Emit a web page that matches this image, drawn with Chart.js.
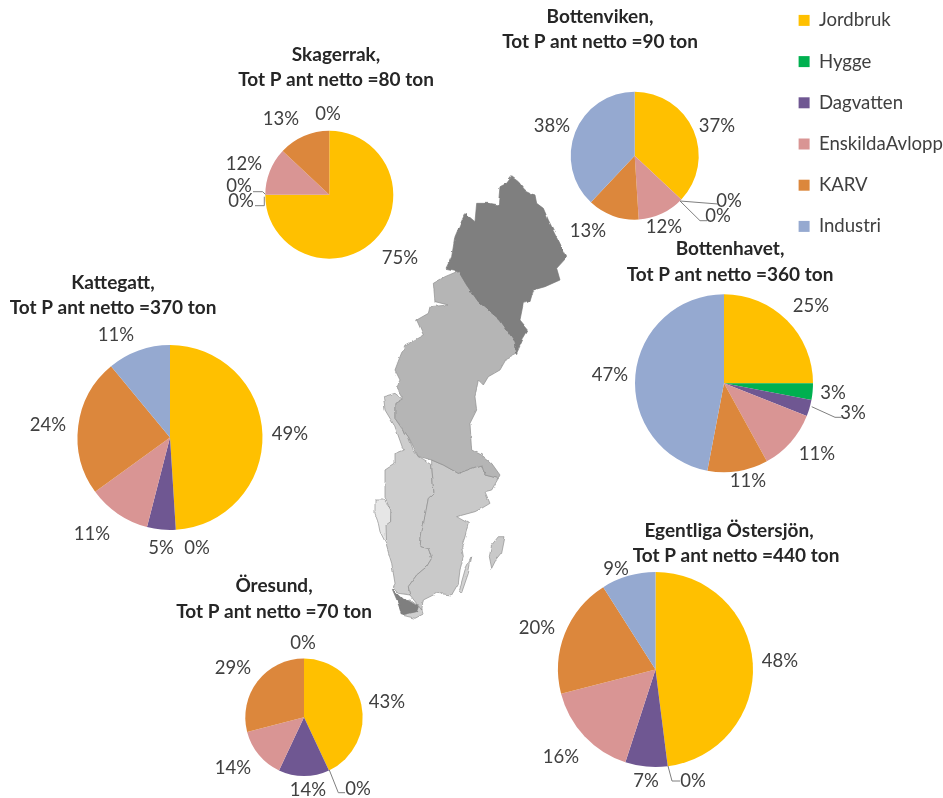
<!DOCTYPE html>
<html><head><meta charset="utf-8">
<script src="https://cdn.jsdelivr.net/npm/chart.js@4"></script>
<style>
html,body{margin:0;padding:0;background:#fff;width:943px;height:798px;overflow:hidden}
#stage{position:relative;width:943px;height:798px;overflow:hidden;filter:blur(.45px)}
canvas,svg{position:absolute;left:0;top:0}
</style></head><body><div id="stage">
<svg width="943" height="798" viewBox="0 0 943 798">
<defs><filter id="rough" x="-5%" y="-5%" width="110%" height="110%">
<feTurbulence type="fractalNoise" baseFrequency="0.035" numOctaves="3" seed="4"/>
<feDisplacementMap in="SourceGraphic" scale="9" xChannelSelector="R" yChannelSelector="G"/>
</filter></defs>
<g transform="translate(360,170) scale(.33333)" stroke="#8c8c8c" stroke-width="2" stroke-linejoin="round" filter="url(#rough)">
<polygon fill="#cfcfcf" points="125,1335 165,1345 190,1332 185,1315 150,1290 115,1300"/>
<polygon fill="#e6e6e6" points="45,990 70,990 95,1020 92,1055 95,1070 78,1120 60,1085 55,1060 45,1030"/>
<polygon fill="#cdcdcd" points="70,680 105,670 130,690 105,700 105,745 125,775 145,800 160,840 175,860 215,885 218,930 222,970 205,985 195,1040 185,1090 180,1130 205,1135 215,1165 200,1190 170,1215 145,1250 150,1275 115,1270 100,1255 105,1240 95,1180 80,1130 78,1065 92,1055 92,1020 75,985 75,900 105,880 105,850 130,840 105,770 75,720"/>
<polygon fill="#c9c9c9" points="215,870 250,885 295,910 335,895 365,885 375,915 415,925 395,960 375,965 390,1000 365,1015 345,1025 290,1040 325,1060 315,1100 305,1130 310,1160 300,1200 295,1240 275,1275 230,1270 190,1290 185,1320 150,1275 145,1250 170,1215 200,1190 215,1165 205,1135 180,1130 185,1090 205,985 222,970 215,885"/>
<polygon fill="#7f7f7f" stroke="#777" points="97,1258 115,1300 125,1335 170,1325 175,1310 150,1295 125,1285"/>
<polygon fill="#c9c9c9" points="415,1100 435,1100 425,1150 405,1175 395,1195 388,1160 395,1125"/>
<polygon fill="#d2d2d2" points="335,1160 325,1210 305,1268 298,1260 315,1200"/>
<polygon fill="#b5b5b5" points="295,303 320,345 355,395 420,450 465,515 470,550 440,565 420,600 385,620 370,645 355,630 345,680 350,720 330,760 335,840 365,855 395,880 420,915 415,925 375,915 365,885 335,895 295,910 250,885 215,870 175,860 145,800 105,745 105,700 130,685 110,650 120,630 105,600 120,560 135,525 190,495 170,450 205,430 210,410 265,405 225,395 220,340 255,320"/>
<polygon fill="#7f7f7f" stroke="#777" points="455,20 475,35 495,60 525,75 530,100 550,115 565,150 590,200 620,262 590,295 600,330 555,350 520,360 510,395 490,400 480,450 505,480 490,505 470,550 465,515 420,450 355,395 320,345 295,303 258,295 275,260 285,200 315,130 345,155 350,100 385,100 415,105 420,50 440,40"/>
</g></svg>
<canvas id="c0" width="943" height="798"></canvas>
<canvas id="c1" width="943" height="798"></canvas>
<canvas id="c2" width="943" height="798"></canvas>
<canvas id="c3" width="943" height="798"></canvas>
<canvas id="c4" width="943" height="798"></canvas>
<canvas id="c5" width="943" height="798"></canvas>
<canvas id="cl" width="343" height="300" style="left:600px"></canvas>
</div>
<script>
// ---- data ----
const categories = ['Jordbruk','Hygge','Dagvatten','EnskildaAvlopp','KARV','Industri'];
const skagerrak   = [75,0,0,12,13,0];
const bottenviken = [37,0,0,12,13,38];
const bottenhavet = [25,3,3,11,11,47];
const kattegatt   = [49,0,5,11,24,11];
const oresund     = [43,0,14,14,29,0];
const egentliga   = [48,0,7,16,20,9];
const basinNames  = ['Skagerrak','Bottenviken','Bottenhavet','Kattegatt','Öresund','Egentliga Östersjön'];
const totals      = [80,90,360,370,70,440];
const colors = ['#FFC000','#00B050','#6F5792','#D99594','#DC873C','#95A9D0'];

// ---- layout (page pixels) ----
const W = 943, H = 798;
const TITLE_FONT = 'bold 19px Lato, sans-serif';
const LABEL_FONT = '18.5px Lato, sans-serif';
const layouts = [
 {cx:329.3,cy:194.7,r:64,  t:[[336,55],[336,80]],
  l:[[400,258],null,null,[244,164],[281,119],[328,114]],
  extra:[[1,239,186],[2,241,201]],
  lines:[[[253,191.7],[262.7,191.7],[265.3,194.3]],[[255,205.7],[264.3,205.7],[264.3,196.7]]]},
 {cx:634.7,cy:155.7,r:64,  t:[[600,17],[600,42]],
  l:[[717,126],[729,201],[718,216],[664,227],[588,231],[552,126]],
  lines:[[[680,201],[718,204]],[[680,201],[700,220.7],[707,220.7]]]},
 {cx:724,cy:383.3,r:89,    t:[[730,249],[730,275]],
  l:[[811,306],[833,393],[853,413],[817,454],[748,481],[610,375]],
  lines:[[[811.7,406.7],[835,417.3],[841.7,417.3]]]},
 {cx:170,cy:437.5,r:92.5,  t:[[113,283],[113,308]],
  l:[[290,434],[197,548],[161,548],[92,534],[48,425],[116,335]], lines:[]},
 {cx:304,cy:717.3,r:58.7,  t:[[274,586],[274,612]],
  l:[[387,702],[358,789],[308,790],[233,768],[233,668],[303,643]],
  lines:[[[329.3,770],[338.3,792.7],[345,792.7]]]},
 {cx:655.5,cy:669.5,r:97.5,t:[[729,531],[736,556]],
  l:[[780,661],[693,781],[646,781],[561,757],[537,628],[616,569]],
  lines:[[[668,766],[672,781],[680,781]]]}
];
const seriesList = [skagerrak,bottenviken,bottenhavet,kattegatt,oresund,egentliga];

const annotate = {
  id:'annotate',
  afterDraw(chart){
    const i = chart.options.plugins.annotate.index, L = layouts[i], s = seriesList[i], c = chart.ctx;
    c.save();
    c.textAlign='center'; c.textBaseline='middle';
    c.fillStyle='#262626'; c.font=TITLE_FONT;
    c.fillText(basinNames[i]+',',L.t[0][0],L.t[0][1]);
    c.fillText('Tot P ant netto ='+totals[i]+' ton',L.t[1][0],L.t[1][1]);
    c.fillStyle='#404040'; c.font=LABEL_FONT;
    s.forEach((v,k)=>{ const p=L.l[k]; if(p) c.fillText(v+'%',p[0],p[1]); });
    (L.extra||[]).forEach(e=>c.fillText(s[e[0]]+'%',e[1],e[2]));
    c.strokeStyle='#7f7f7f'; c.lineWidth=1;
    L.lines.forEach(pts=>{ c.beginPath(); pts.forEach((p,n)=>n?c.lineTo(p[0],p[1]):c.moveTo(p[0],p[1])); c.stroke(); });
    c.restore();
  }
};
seriesList.forEach((vals,i)=>{
  const L = layouts[i];
  new Chart(document.getElementById('c'+i),{
    type:'pie',
    data:{labels:categories,datasets:[{data:vals,backgroundColor:colors,borderWidth:0}]},
    options:{
      responsive:false,animation:false,
      layout:{padding:{left:L.cx-L.r,right:W-L.cx-L.r,top:L.cy-L.r,bottom:H-L.cy-L.r}},
      plugins:{legend:{display:false},tooltip:{enabled:false},annotate:{index:i}}
    },
    plugins:[annotate]
  });
});
// legend
new Chart(document.getElementById('cl'),{
  type:'pie',
  data:{labels:categories,datasets:[{data:categories.map(()=>0),backgroundColor:colors,borderWidth:0}]},
  options:{
    responsive:false,animation:false,
    layout:{padding:{right:-9,top:-11.5}},
    plugins:{tooltip:{enabled:false},
      legend:{position:'right',align:'start',
        labels:{boxWidth:11,boxHeight:11,padding:22.6,color:'#404040',font:{family:'Lato, sans-serif',size:18.6}}}}
  }
});
</script></body></html>
